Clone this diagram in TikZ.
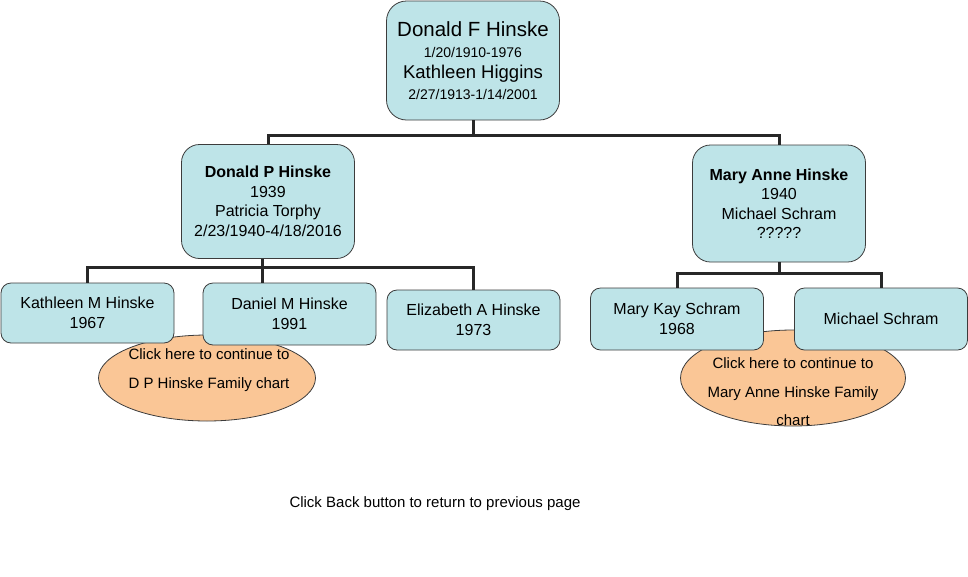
\documentclass[tikz,border=0pt]{standalone}
\usepackage{fontspec}
\setmainfont{Liberation Sans}
\usepackage{tikz}
\usetikzlibrary{shapes.geometric, positioning}
\definecolor{personblue}{RGB}{190,228,232}
\definecolor{linkorange}{RGB}{250,198,150}
\definecolor{treegray}{RGB}{40,40,40}
\definecolor{edgegray}{RGB}{60,60,60}
\tikzset{
  person/.style={rectangle, rounded corners=10pt, minimum width=173pt,
    minimum height=60pt, align=center, draw=edgegray, fill=personblue,
    line width=0.8pt, font=\fontsize{16}{19.5}\selectfont},
  couple/.style={person, rounded corners=18pt, minimum height=114pt},
  linkblob/.style={ellipse, draw=edgegray, fill=linkorange, line width=0.8pt},
  linktext/.style={align=center, font=\fontsize{15}{28.5}\selectfont},
  link/.style={line width=3pt, color=treegray},
}

\begin{document}
\begin{tikzpicture}[x=1pt, y=-1pt]
  \useasboundingbox (0,0) rectangle (968,576);
  % links to the next charts, under the boxes
  \node[linkblob, minimum width=217pt, minimum height=86pt]
    (dpchart) at (207,378) {};
  \node[linktext] (dptext) at (209,370)
    {Click here to continue to\\D P Hinske Family chart};
  \node[linkblob, minimum width=225pt, minimum height=96pt]
    (machart) at (793,378) {};
  \node[linktext] (matext) at (793,392)
    {Click here to continue to\\Mary Anne Hinske Family\\chart};
  % parents
  \node[couple, rounded corners=20pt, minimum height=119pt,
        font=\fontsize{14}{21}\selectfont] (top) at (473,60.5)
    {{\fontsize{20.5}{21}\selectfont Donald F Hinske}\\
     1/20/1910-1976\\
     {\fontsize{18.5}{21}\selectfont Kathleen Higgins}\\
     2/27/1913-1/14/2001};
  % children
  \node[couple] (dp) at (268,201.5)
    {\textbf{Donald P Hinske}\\1939\\Patricia Torphy\\2/23/1940-4/18/2016};
  \node[couple, minimum height=117pt] (ma) at (779,203.5)
    {\textbf{Mary Anne Hinske}\\1940\\Michael Schram\\?????};
  % grandchildren
  \node[person] (kat) at (87.5,313) {Kathleen M Hinske\\1967};
  \node[person, minimum height=62pt] (dan) at (289.5,314) {Daniel M Hinske\\1991};
  \node[person] (eli) at (473.5,320) {Elizabeth A Hinske\\1973};
  \node[person, minimum height=62pt] (mks) at (677,319) {Mary Kay Schram\\1968};
  \node[person, minimum height=62pt] (ms) at (881,319) {Michael Schram};
  % tree lines
  \coordinate (topbar) at (473,135);
  \coordinate (dpbar) at (262,267);
  \coordinate (mabar) at (779,273);
  \draw[link] (top.south) -- (topbar);
  \draw[link] (dp.north) |- (topbar) -| (ma.north);
  \draw[link] (dpbar |- dp.south) -- (dpbar |- dan.north);
  \draw[link] (kat.north) |- (dpbar) -| (eli.north);
  \draw[link] (ma.south) -- (mabar);
  \draw[link] (mks.north) |- (mabar) -| (ms.north);
  \node[font=\fontsize{15}{17}\selectfont] (back) at (435,504)
    {Click Back button to return to previous page};
\end{tikzpicture}
\end{document}
